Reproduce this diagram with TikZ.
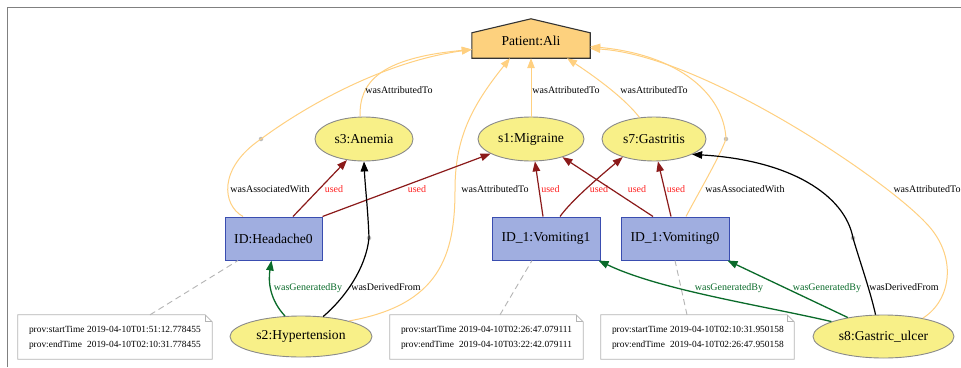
\documentclass[tikz,border=0pt]{standalone}
\usepackage{fontspec}
\setmainfont{Liberation Serif}
\usetikzlibrary{arrows.meta,shapes.geometric,calc}
\definecolor{entfill}{HTML}{F8F088}
\definecolor{entdraw}{HTML}{8A8A8A}
\definecolor{actfill}{HTML}{A0AEE0}
\definecolor{actdraw}{HTML}{3A4DB0}
\definecolor{agtfill}{HTML}{FDD17E}
\definecolor{attrcol}{HTML}{FFD080}
\definecolor{useddraw}{HTML}{8B1A1A}
\definecolor{usedtext}{HTML}{FF2020}
\definecolor{gencol}{HTML}{0A6B2A}
\definecolor{dotgray}{HTML}{BDBDBD}
\definecolor{notedraw}{HTML}{B4B4B4}
\definecolor{framecol}{HTML}{808080}
\begin{document}
\begin{tikzpicture}[x=1pt,y=-1pt,
  nodefont/.style={font=\fontsize{13.6}{16}\selectfont},
  entity/.style={ellipse, draw=entdraw, fill=entfill, line width=0.9pt, inner sep=0pt, nodefont},
  activity/.style={rectangle, draw=actdraw, fill=actfill, line width=1pt, inner sep=0pt, minimum height=43pt, nodefont},
  pdot/.style={circle, fill=dotgray, inner sep=0pt, minimum size=4.5pt},
  notebox/.style={rectangle, inner sep=0pt, minimum width=193pt, minimum height=44pt, font=\fontsize{9.4}{15}\selectfont},
  notedrawing/.style={draw=notedraw, fill=white, line width=0.8pt},
  notelink/.style={draw=notedraw, dashed, dash pattern=on 6pt off 4pt, line width=0.9pt},
  tip/.style={-{Triangle[length=10pt,width=7.5pt]}},
  attredge/.style={draw=attrcol, line width=1pt, tip},
  usededge/.style={draw=useddraw, line width=1.2pt, tip},
  genedge/.style={draw=gencol, line width=1.3pt, tip},
  deredge/.style={draw=black, line width=1.2pt, tip},
  plainedge/.style={line width=1.2pt},
  lbl/.style={font=\fontsize{10}{12}\selectfont, inner sep=0pt, text height=7pt, text depth=2pt},
  usedlbl/.style={lbl, text=usedtext},
  genlbl/.style={lbl, text=gencol}
]
\useasboundingbox (0,0) rectangle (961,367);
\fill[white] (0,0) rectangle (961,367);
\draw[framecol, line width=1.6pt] (7.5,367) -- (7.5,7.5) -- (961,7.5);

% agent
\node[minimum width=118pt, minimum height=25pt, inner sep=0pt] (pat) at (531,45.5) {};
\filldraw[draw=black!80, fill=agtfill, line width=1.1pt]
  (pat.south west) -- (pat.north west) -- ([yshift=14pt]pat.north) -- (pat.north east) -- (pat.south east) -- cycle;
\node[nodefont, inner sep=0pt] (patlbl) at (531,41) {Patient:Ali};

% entities
\node[entity, minimum width=98pt, minimum height=44pt] (ane) at (364,139) {s3:Anemia};
\node[entity, minimum width=106pt, minimum height=44pt] (mig) at (531,139) {s1:Migraine};
\node[entity, minimum width=104pt, minimum height=44pt] (gas) at (654,139) {s7:Gastritis};
\node[entity, minimum width=142pt, minimum height=41pt] (hyp) at (301,336.5) {s2:Hypertension};
\node[entity, minimum width=141pt, minimum height=43pt] (gul) at (883.5,336.5) {s8:Gastric\_ulcer};

% activities
\node[activity, minimum width=97pt] (head) at (273.5,238.5) {ID:Headache0};
\node[activity, minimum width=108pt] (vom1) at (546,238.5) {ID\_1:Vomiting1};
\node[activity, minimum width=108pt] (vom0) at (675,238.5) {ID\_1:Vomiting0};

% notes
\node[notebox, minimum width=194pt] (note1) at (115,337) {};
\node[notebox] (note2) at (486.5,337) {};
\node[notebox] (note3) at (697.5,337) {};
\foreach \n in {note1,note2,note3}{
  \filldraw[notedrawing] (\n.south west) -- (\n.north west) -- ([xshift=-7pt]\n.north east)
    -- ([yshift=-7pt]\n.north east) -- (\n.south east) -- cycle;
  \draw[notedrawing, fill=none] ([xshift=-7pt]\n.north east) -- ([xshift=-7pt,yshift=-7pt]\n.north east) -- ([yshift=-7pt]\n.north east);
}
\node[notebox, anchor=west, minimum width=0pt] (note1txt) at ([xshift=11pt]note1.west)
  {\begin{tabular}{@{}l@{\hspace{2.6pt}}l@{}}prov:startTime & 2019-04-10T01:51:12.778455\\ prov:endTime & 2019-04-10T02:10:31.778455\end{tabular}};
\node[notebox, anchor=west, minimum width=0pt] (note2txt) at ([xshift=11pt]note2.west)
  {\begin{tabular}{@{}l@{\hspace{2.6pt}}l@{}}prov:startTime & 2019-04-10T02:26:47.079111\\ prov:endTime & 2019-04-10T03:22:42.079111\end{tabular}};
\node[notebox, anchor=west, minimum width=0pt] (note3txt) at ([xshift=11pt]note3.west)
  {\begin{tabular}{@{}l@{\hspace{2.6pt}}l@{}}prov:startTime & 2019-04-10T02:10:31.950158\\ prov:endTime & 2019-04-10T02:26:47.950158\end{tabular}};

% relation points
\node[pdot] (d1) at (261,139) {};
\node[pdot] (d2) at (369,238) {};
\node[pdot] (d3) at (726,139) {};
\node[pdot] (d4) at (853,238) {};

% note links
\draw[notelink] ([xshift=35pt]note1.north) -- ([xshift=-35.5pt]head.south);
\draw[notelink] ([xshift=13.5pt]note2.north) -- ([xshift=-14pt]vom1.south);
\draw[notelink] ([xshift=-10.5pt]note3.north) -- (vom0.south);

% wasAttributedTo / wasAssociatedWith
\draw[attredge] (ane.100) .. controls (359,82) and (380,58) .. ([yshift=-4pt]pat.west)
  node[lbl] (l1) at (399,90.5) {wasAttributedTo};
\draw[draw=attrcol, line width=1pt] ([xshift=-30.5pt]head.north) .. controls (222,205) and (218,168) .. (d1.center)
  node[lbl] (l2) at (270,189.5) {wasAssociatedWith};
\draw[attredge] (d1.center) .. controls (300,110) and (380,62) .. ([yshift=-4pt]pat.west);
\draw[attredge] (mig.north) -- (pat.south)
  node[lbl] (l3) at (566,90.5) {wasAttributedTo};
\draw[attredge] (gas.124) .. controls (626,100) and (600,80) .. ([xshift=36pt]pat.south)
  node[lbl] (l4) at (654,90.5) {wasAttributedTo};
\draw[attredge] (hyp.18) .. controls (440,305) and (455,255) .. (455,190) .. controls (455,140) and (470,108) .. ([xshift=-21pt]pat.south)
  node[lbl] (l5) at (495,189.5) {wasAttributedTo};
\draw[draw=attrcol, line width=1pt] ([xshift=11pt]vom0.north) .. controls (700,190) and (718,160) .. (d3.center)
  node[lbl] (l6) at (745,189.5) {wasAssociatedWith};
\draw[attredge] (d3.center) .. controls (724,95) and (680,55) .. ([yshift=-1pt]pat.east);
\draw[attredge] (gul.25) .. controls (952,300) and (958,255) .. (925,222) .. controls (880,175) and (700,55) .. ([yshift=-3pt]pat.east)
  node[lbl, anchor=west] (l7) at (893,189.5) {wasAttributedTo};

% used
\draw[usededge] ([xshift=19.5pt]head.north) -- (ane.231)
  node[usedlbl] (l8) at (334,189.5) {used};
\draw[usededge] (head.north east) -- (mig.200)
  node[usedlbl] (l9) at (417,189.5) {used};
\draw[usededge] ([xshift=-3pt]vom1.north) -- (mig.280)
  node[usedlbl] (l10) at (550.5,189.5) {used};
\draw[usededge] ([xshift=14pt]vom1.north) .. controls (572,200) and (598,178) .. (gas.210)
  node[usedlbl] (l11) at (599,189.5) {used};
\draw[usededge] ([xshift=-22pt]vom0.north) -- (mig.330)
  node[usedlbl] (l12) at (637,189.5) {used};
\draw[usededge] ([xshift=-4pt]vom0.north) -- (gas.280)
  node[usedlbl] (l13) at (676,189.5) {used};

% wasDerivedFrom
\draw[plainedge] (hyp.42) .. controls (345,298) and (366,268) .. (d2.center)
  node[lbl] (l14) at (386,288) {wasDerivedFrom};
\draw[deredge] (d2.center) .. controls (368,210) and (365,185) .. (ane.south);
\draw[plainedge] (gul.110) .. controls (870,290) and (860,262) .. (d4.center)
  node[lbl] (l15) at (904,288) {wasDerivedFrom};
\draw[deredge] (d4.center) .. controls (845,195) and (790,160) .. (gas.-22);

% wasGeneratedBy
\draw[genedge] (hyp.128) .. controls (270,300) and (268,282) .. ([xshift=-2pt]head.south)
  node[genlbl] (l16) at (308,288) {wasGeneratedBy};
\draw[genedge] (gul.164) .. controls (760,305) and (660,290) .. ([xshift=-2pt]vom1.south east)
  node[genlbl] (l17) at (729,288) {wasGeneratedBy};
\draw[genedge] (gul.152) -- ([xshift=-2pt]vom0.south east)
  node[genlbl] (l18) at (827,288) {wasGeneratedBy};
\end{tikzpicture}
\end{document}
